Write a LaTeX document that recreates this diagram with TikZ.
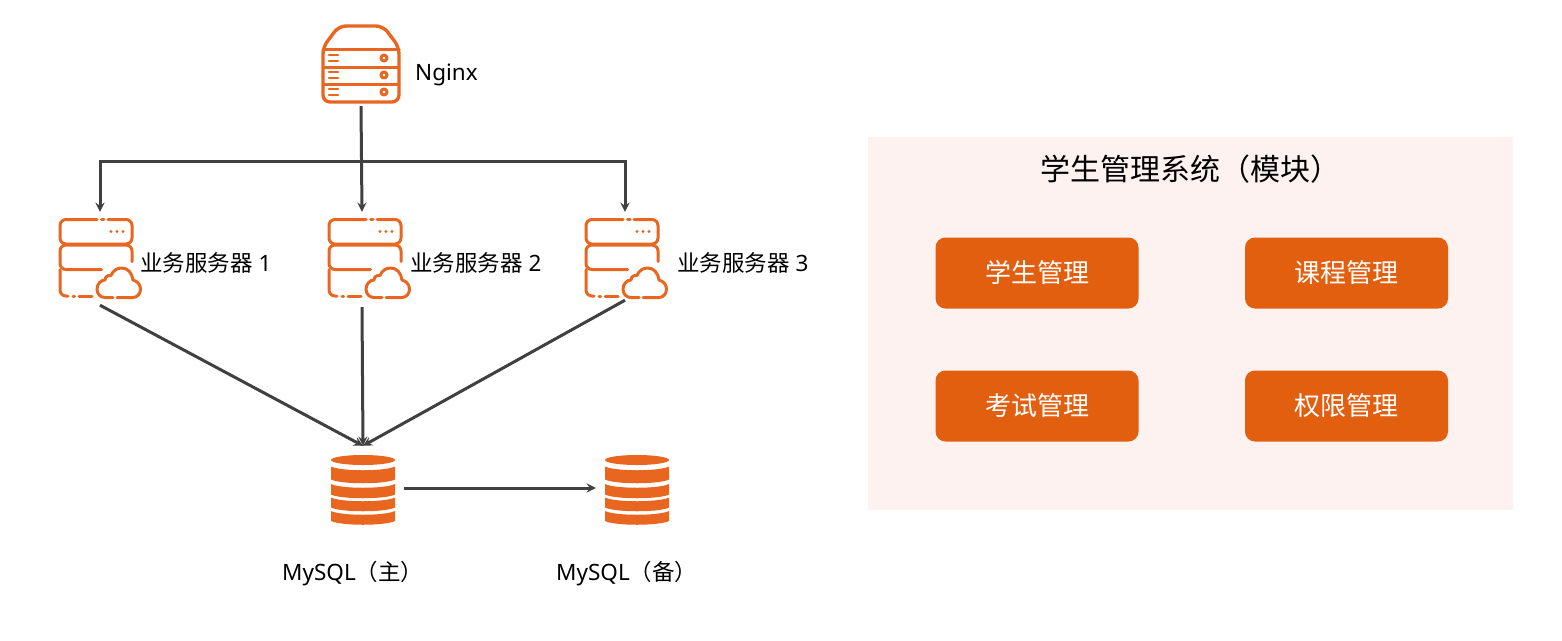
\documentclass[tikz,border=0pt]{standalone}
\usepackage{fontspec}
\setmainfont{Noto Sans}
\newfontfamily\cjk[Kerning=Off]{Noto Sans CJK SC}
\usetikzlibrary{shapes,arrows}
\definecolor{icon}{HTML}{E8661F}
\definecolor{modbox}{HTML}{E35F10}
\definecolor{panel}{HTML}{FDF2EF}
\definecolor{wire}{HTML}{404040}

\tikzset{
    spot/.style={inner sep=0pt,minimum width=82pt},
    link/.style={line width=3pt,wire,-stealth},
    txt/.style={font=\fontsize{22.5}{26}\selectfont,inner sep=0pt,text=black},
    module/.style={fill=modbox,rounded corners=10pt,minimum width=203pt,minimum height=71pt,inner sep=0pt,text=white,font=\fontsize{26}{30}\cjk},
    ln/.style={draw=icon,line width=3pt,line cap=round,line join=round},
    pics/nginxicon/.style={code={
        \draw[ln,line width=3.4pt,rounded corners=7pt] (0,21) -- (16,0) -- (60,0) -- (76,21) -- (76,76) -- (0,76) -- cycle;
        \draw[ln] (0,23.5) -- (76,23.5) (0,41) -- (76,41) (0,58.5) -- (76,58.5);
        \foreach \y in {29,46,63}{
            \draw[ln,line width=2.6pt] (6,\y) -- (15,\y) (6,\y+6) -- (15,\y+6);
            \draw[ln,line width=3pt] (61,\y+3) circle (3pt);
        }
    }},
    pics/servericon/.style={code={
        \draw[ln,rounded corners=6pt] (38,1.5) -- (1,1.5) -- (1,26) -- (73,26) -- (73,1.5) -- (49,1.5);
        \draw[ln] (42.5,1.5) -- (45,1.5);
        \foreach \x in {52,58,64} \fill[icon] (\x,13.5) circle (1.6pt);
        \draw[ln,rounded corners=6pt] (73,43.5) -- (73,27) -- (1,27) -- (1,51.5) -- (42.5,51.5);
        \draw[ln,rounded corners=6pt] (1,51.5) -- (1,78) -- (9,78);
        \draw[ln] (14,78) -- (15.5,78) (20,78) -- (33,78);
        \draw[ln] (54,79.5) -- (46,79.5) .. controls (41,79.5) and (38,75.5) .. (38,71)
            .. controls (38,66) and (42,62) .. (46,62) .. controls (46,58.5) and (49,57) .. (52,57.5)
            .. controls (54,52.5) and (58,50) .. (62.5,50) .. controls (69,50) and (73,55) .. (74,62)
            .. controls (78,63) and (81.5,66.5) .. (81.5,71) .. controls (81.5,76) and (78,79.5) .. (74,79.5) -- (58,79.5);
    }},
    pics/dbicon/.style={code={
        \fill[icon] (0,5) ellipse (32pt and 5pt);
        \foreach \a/\b in {11.5/24.5,29/39.5,42.5/52.5,56/66}{
            \fill[icon] (-32,\a) .. controls (-22,\a+5) and (22,\a+5) .. (32,\a)
                -- (32,\b) .. controls (22,\b+5) and (-22,\b+5) .. (-32,\b) -- cycle;
        }
    }},
}

\begin{document}
\begin{tikzpicture}[x=1pt,y=-1pt]
    \useasboundingbox (0,0) rectangle (1562,640);

    % right panel
    \node[fill=panel,inner sep=0pt,minimum width=645pt,minimum height=373pt] (panelbox) at (1190.5,323.5) {};
    \node[txt,font=\fontsize{30}{34}\cjk] (paneltitle) at (1190,169) {学生管理系统（模块）};
    \node[module] (m1) at (1037,273) {学生管理};
    \node[module] (m2) at (1346.5,273) {课程管理};
    \node[module] (m3) at (1037,406) {考试管理};
    \node[module] (m4) at (1346.5,406) {权限管理};

    % icons
    \pic at (323,26) {nginxicon};
    \pic at (59,218) {servericon};
    \pic at (328,218) {servericon};
    \pic at (585,218) {servericon};
    \pic at (363,455) {dbicon};
    \pic at (637,455) {dbicon};

    \node[spot,minimum height=78pt] (nginx) at (361,67) {};
    \node[spot,minimum height=93pt] (srv1) at (100,258.5) {};
    \node[spot,minimum height=95pt] (srv2) at (362,259.5) {};
    \node[spot,minimum height=88pt] (srv3) at (625,256) {};
    \node[spot,minimum height=84pt] (db1) at (363,488) {};
    \node[spot,minimum height=84pt] (db2) at (637,488) {};
    \coordinate (bus) at (361,161);

    \node[txt,anchor=west] (lnginx) at (415,75) {Nginx};
    \node[txt,anchor=west] (l1) at (140,263) {{\cjk 业务服务器} 1};
    \node[txt,anchor=west] (l2) at (410,263) {{\cjk 业务服务器} 2};
    \node[txt,anchor=west] (l3) at (677,263) {{\cjk 业务服务器} 3};
    \node[txt,anchor=west] (ldb1) at (282,574) {MySQL{\cjk（主）}};
    \node[txt,anchor=west] (ldb2) at (556,574) {MySQL{\cjk（备）}};

    \draw[link] (nginx.south) to (srv2.north);
    \draw[link] (bus) -| (srv1.north);
    \draw[link] (bus) -| (srv3.north);

    \draw[link] (srv1.south) to (db1.north);
    \draw[link] (srv2.south) to (db1.north);
    \draw[link] (srv3.south) to (db1.north);

    \draw[link] (db1.east) to (db2.west);
\end{tikzpicture}
\end{document}
